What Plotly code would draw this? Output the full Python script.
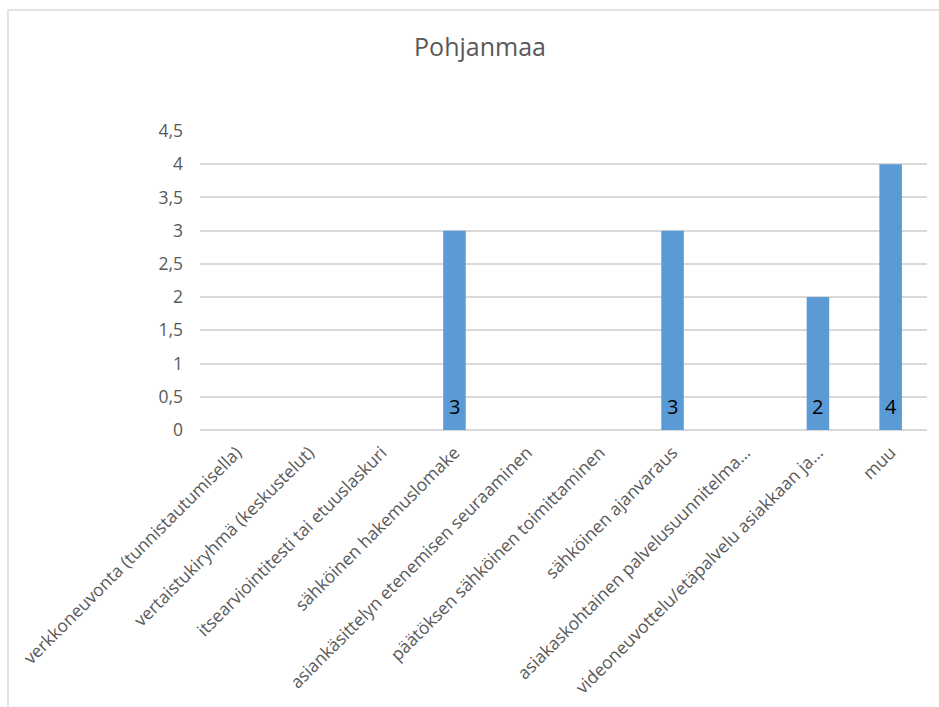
import plotly.graph_objects as go

# Category labels (x axis), in display order
categories = [
    "verkkoneuvonta (tunnistautumisella)",
    "vertaistukiryhmä (keskustelut)",
    "itsearviointitesti tai etuuslaskuri",
    "sähköinen hakemuslomake",
    "asiankäsittelyn etenemisen seuraaminen",
    "päätöksen sähköinen toimittaminen",
    "sähköinen ajanvaraus",
    "asiakaskohtainen palvelusuunnitelma…",
    "videoneuvottelu/etäpalvelu asiakkaan ja…",
    "muu",
]

# Number of responses per category
values = [0, 0, 0, 3, 0, 0, 3, 0, 2, 4]

# Y axis ticks (Finnish decimal comma)
y_ticks = [0, 0.5, 1, 1.5, 2, 2.5, 3, 3.5, 4, 4.5]
y_tick_labels = ["0", "0,5", "1", "1,5", "2", "2,5", "3", "3,5", "4", "4,5"]

FONT = "Open Sans"
GREY_TEXT = "#595959"
GRID = "#d9d9d9"
BAR = "#5b9bd5"

fig = go.Figure()
fig.add_trace(go.Bar(
    x=categories,
    y=values,
    marker=dict(color=BAR, line=dict(width=0)),
    width=0.31,
    hoverinfo="x+y",
))

# Value labels sitting inside the base of each non-empty bar
for cat, v in zip(categories, values):
    if v:
        fig.add_annotation(
            x=cat, y=0, text=str(v), showarrow=False,
            yanchor="bottom", yshift=8,
            font=dict(family=FONT, size=20, color="#000000"),
        )

L, R, T, B = 200, 12, 131, 277
W, H = 939, 707
pw, ph = W - L - R, H - T - B

# Light frame around the whole chart area
fig.add_shape(
    type="rect", xref="paper", yref="paper",
    x0=(8 - L) / pw, x1=(W + 5 - L) / pw,
    y0=-(H + 5 - T - ph) / ph, y1=(T - 10 + ph) / ph,
    line=dict(color=GRID, width=1.5), fillcolor="rgba(0,0,0,0)", layer="below",
)

fig.update_layout(
    width=W, height=H,
    margin=dict(l=L, r=R, t=T, b=B, autoexpand=False),
    paper_bgcolor="white", plot_bgcolor="white",
    showlegend=False,
    title=dict(
        text="Pohjanmaa", x=(480) / W, xanchor="center",
        y=1 - 47 / H, yanchor="middle",
        font=dict(family=FONT, size=25, color=GREY_TEXT),
    ),
    font=dict(family=FONT, color=GREY_TEXT),
    bargap=0.69,
)

fig.update_yaxes(
    range=[0, 4.5],
    tickvals=y_ticks, ticktext=y_tick_labels,
    showgrid=True, gridcolor=GRID, gridwidth=1.5,
    zeroline=True, zerolinecolor=GRID, zerolinewidth=1.5,
    showline=False, ticks="",
    ticklabelstandoff=16,
    tickfont=dict(family=FONT, size=17.5, color=GREY_TEXT),
)

fig.update_xaxes(
    tickangle=-45, showgrid=False, showline=False, ticks="",
    ticklabelstandoff=8,
    tickfont=dict(family=FONT, size=17.5, color=GREY_TEXT),
)

fig.write_html("out.html")
